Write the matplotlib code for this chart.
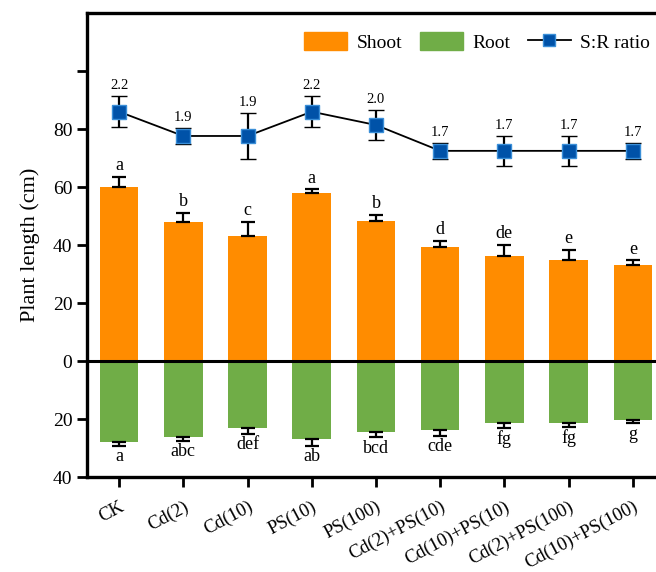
import numpy as np
import matplotlib
matplotlib.use('Agg')
import matplotlib.pyplot as plt
from matplotlib.lines import Line2D
from matplotlib.patches import Patch

plt.rcParams['font.family'] = ['Liberation Serif', 'DejaVu Serif']

groups = ['CK', 'Cd(2)', 'Cd(10)', 'PS(10)', 'PS(100)', 'Cd(2)+PS(10)',
          'Cd(10)+PS(10)', 'Cd(2)+PS(100)', 'Cd(10)+PS(100)']
shoot = [60.2, 48.0, 43.3, 58.0, 48.4, 39.4, 36.3, 35.0, 33.3]
shoot_err = [3.3, 3.0, 4.8, 1.2, 2.0, 2.1, 3.6, 3.2, 1.4]
root = [27.8, 26.1, 23.2, 26.9, 24.6, 23.8, 21.3, 21.3, 20.3]
root_err = [1.4, 1.5, 1.8, 2.4, 1.7, 2.1, 1.7, 1.3, 1.2]
ratio = [2.2, 1.89, 1.89, 2.2, 2.03, 1.7, 1.7, 1.7, 1.7]
ratio_err = [0.2, 0.1, 0.29, 0.2, 0.19, 0.1, 0.19, 0.19, 0.1]
shoot_sig = ['a', 'b', 'c', 'a', 'b', 'd', 'de', 'e', 'e']
root_sig = ['a', 'abc', 'def', 'ab', 'bcd', 'cde', 'fg', 'fg', 'g']

orange = '#ff8c00'
green = '#70ad47'
blue = '#0052a8'

fig = plt.figure(figsize=(6.56, 5.72), dpi=100)
ax = fig.add_axes([0.1326, 0.166, 0.881, 0.811])
x = np.arange(len(groups))
w = 0.6

ax.bar(x, shoot, w, color=orange, zorder=2)
ax.errorbar(x, shoot, yerr=[np.zeros(len(x)), shoot_err], fmt='none',
            ecolor='k', elinewidth=1.6, capsize=5, capthick=1.6, zorder=3)
neg_root = -np.array(root)
ax.bar(x, neg_root, w, color=green, zorder=2)
ax.errorbar(x, neg_root, yerr=[root_err, np.zeros(len(x))], fmt='none',
            ecolor='k', elinewidth=1.6, capsize=5, capthick=1.6, zorder=3)
ax.axhline(0, color='k', lw=2.2, zorder=4)

for i in range(len(x)):
    ax.text(x[i], shoot[i] + shoot_err[i] + 1.0, shoot_sig[i], ha='center',
            va='bottom', fontsize=13)
    ax.text(x[i], neg_root[i] - root_err[i] - 0.8, root_sig[i], ha='center',
            va='top', fontsize=13)

ax.set_xlim(-0.5, len(x) - 0.5)
ax.set_ylim(-40, 120)
ax.set_yticks([-40, -20, 0, 20, 40, 60, 80, 100])
ax.set_yticklabels(['40', '20', '0', '20', '40', '60', '80', ''])
ax.set_xticks(x)
ax.set_xticklabels(groups, rotation=28, ha='right', va='top',
                   rotation_mode='anchor')
ax.tick_params(axis='both', direction='out', length=7, width=2, labelsize=14)
ax.tick_params(axis='x', labelsize=13.5, pad=8)
ax.set_ylabel('Plant length (cm)', fontsize=16, labelpad=9)
for s in ['left', 'bottom', 'top']:
    ax.spines[s].set_linewidth(2.4)
ax.spines['right'].set_visible(False)

ax2 = ax.twinx()
ax2.set_ylim(-2.467, 3.459)
ax2.errorbar(x, ratio, yerr=ratio_err, fmt='-s', color='k', lw=1.3,
             elinewidth=1.6, capsize=6, capthick=1.6, ms=10,
             mfc=blue, mec='#3a8fd8', mew=1.0, zorder=5)
for i in range(len(x)):
    ax2.text(x[i], ratio[i] + ratio_err[i] + 0.05, '%.1f' % ratio[i],
             ha='center', va='bottom', fontsize=10.5)
ax2.set_yticks([])
for s in ax2.spines.values():
    s.set_visible(False)

handles = [Patch(color=orange), Patch(color=green),
           Line2D([], [], color='k', lw=1.3, marker='s', ms=8, mfc=blue,
                  mec='#3a8fd8')]
fig.legend(handles, ['Shoot', 'Root', 'S:R ratio'], ncol=3, frameon=False,
           loc='upper right', bbox_to_anchor=(1.018, 0.975), fontsize=14,
           handlelength=2.2, handleheight=1.1, columnspacing=0.9,
           handletextpad=0.5)

fig.savefig('out.png', dpi=100)
